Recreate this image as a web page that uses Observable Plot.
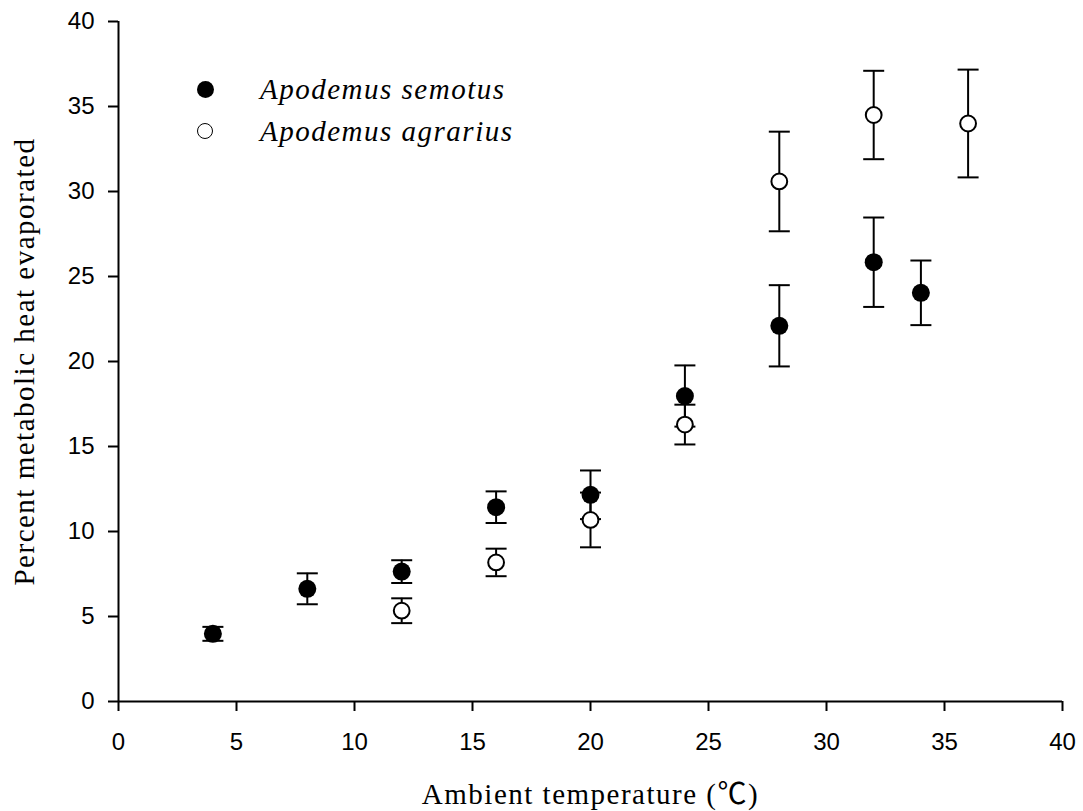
<!DOCTYPE html>
<html><head><meta charset="utf-8">
<script src="https://cdn.jsdelivr.net/npm/d3@7"></script>
<script src="https://cdn.jsdelivr.net/npm/@observablehq/plot@0.6"></script>
<style>
body{margin:0;background:#fff;}
#wrap{position:relative;width:1083px;height:811px;color:#000;}
.lg{position:absolute;left:0;top:0;font-family:"Liberation Serif","Times New Roman",serif;font-style:italic;font-size:29px;letter-spacing:1.5px;color:#000;}
.lg .row{position:absolute;left:0;height:0;white-space:nowrap;}
.lg .sym{position:absolute;box-sizing:border-box;border-radius:50%;}
.lg .txt{position:absolute;left:260px;top:0;transform:translateY(-50%);line-height:1;}
</style></head><body><div id="wrap"></div>
<script>
// Data (mean ± error)
const semotusTemp = [4, 8, 12, 16, 20, 24, 28, 32, 34];
const semotusMean = [3.98, 6.63, 7.64, 11.43, 12.16, 17.97, 22.1, 25.84, 24.04];
const semotusErr  = [0.41, 0.91, 0.67, 0.93, 1.43, 1.8, 2.39, 2.63, 1.9];
const agrariusTemp = [12, 16, 20, 24, 28, 32, 36];
const agrariusMean = [5.34, 8.18, 10.68, 16.29, 30.59, 34.5, 34.0];
const agrariusErr  = [0.73, 0.81, 1.61, 1.17, 2.93, 2.6, 3.17];
const xTicks = [0, 5, 10, 15, 20, 25, 30, 35, 40];
const yTicks = [0, 5, 10, 15, 20, 25, 30, 35, 40];
const speciesNames = ["Apodemus semotus", "Apodemus agrarius"];
const xTitle = "Ambient temperature (℃)";
const yTitle = "Percent metabolic heat evaporated";

const toRows = (t, m, e) => t.map((x, i) => ({x, y: m[i], lo: m[i] - e[i], hi: m[i] + e[i]}));
const semotus = toRows(semotusTemp, semotusMean, semotusErr);
const agrarius = toRows(agrariusTemp, agrariusMean, agrariusErr);

const cap = {draw(ctx) { ctx.moveTo(-10.5, 0); ctx.lineTo(10.5, 0); }};

function errMarks(rows) {
  return [
    Plot.ruleX(rows, {x: "x", y1: "lo", y2: "hi", stroke: "#000", strokeWidth: 2}),
    Plot.dot(rows, {x: "x", y: "lo", symbol: cap, fill: "none", stroke: "#000", strokeWidth: 2}),
    Plot.dot(rows, {x: "x", y: "hi", symbol: cap, fill: "none", stroke: "#000", strokeWidth: 2})
  ];
}

const serif = "'Liberation Serif', 'Times New Roman', 'Noto Sans CJK SC', serif";

const chart = Plot.plot({
  width: 1083, height: 811,
  marginLeft: 118, marginRight: 21, marginTop: 21, marginBottom: 110,
  style: {background: "#fff", color: "#000", overflow: "visible"},
  x: {domain: [0, 40]},
  y: {domain: [0, 40]},
  marks: [
    Plot.axisX({ticks: xTicks, tickSize: 10, tickPadding: 21, fontSize: 24, fontFamily: "Liberation Sans, Arial, sans-serif", strokeWidth: 2, label: null}),
    Plot.axisY({ticks: yTicks, tickSize: 10, tickPadding: 14, fontSize: 24, fontFamily: "Liberation Sans, Arial, sans-serif", strokeWidth: 2, label: null}),
    Plot.ruleY([0], {stroke: "#000", strokeWidth: 2}),
    Plot.ruleX([0], {stroke: "#000", strokeWidth: 2}),
    ...errMarks(semotus),
    Plot.dot(semotus, {x: "x", y: "y", r: 9, fill: "#000", stroke: "none"}),
    ...errMarks(agrarius),
    Plot.dot(agrarius, {x: "x", y: "y", r: 7.9, fill: "#fff", stroke: "#000", strokeWidth: 2}),
    Plot.text([xTitle], {frameAnchor: "bottom", textAnchor: "middle", lineAnchor: "bottom", dy: 102, fontSize: 29, fontFamily: serif, fill: "#000"}),
    Plot.text([yTitle], {frameAnchor: "left", textAnchor: "middle", lineAnchor: "bottom", rotate: -90, dx: -85, fontSize: 29, fontFamily: serif, fill: "#000"})
  ]
});

// widen the serif titles' letter spacing as in the original
d3.select(chart).selectAll("text").filter(function() {
  const s = this.textContent;
  return s === xTitle || s === yTitle;
}).attr("letter-spacing", 1.5);

const wrap = document.getElementById("wrap");
wrap.appendChild(chart);

// Legend (inside plot area, upper left)
const lg = document.createElement("div");
lg.className = "lg";
const legendRows = [
  {name: speciesNames[0], top: 89, size: 17, style: "background:#000;"},
  {name: speciesNames[1], top: 131, size: 16, style: "background:#fff;border:1.8px solid #000;"}
];
legendRows.forEach(r => {
  const row = document.createElement("div");
  row.className = "row";
  row.style.top = r.top + "px";
  const s = document.createElement("div");
  s.className = "sym";
  s.style.cssText = `width:${r.size}px;height:${r.size}px;left:${205 - r.size/2}px;top:${-r.size/2}px;` + r.style;
  const t = document.createElement("div");
  t.className = "txt";
  t.textContent = r.name;
  row.appendChild(s); row.appendChild(t);
  lg.appendChild(row);
});
wrap.appendChild(lg);
</script>
</body></html>
